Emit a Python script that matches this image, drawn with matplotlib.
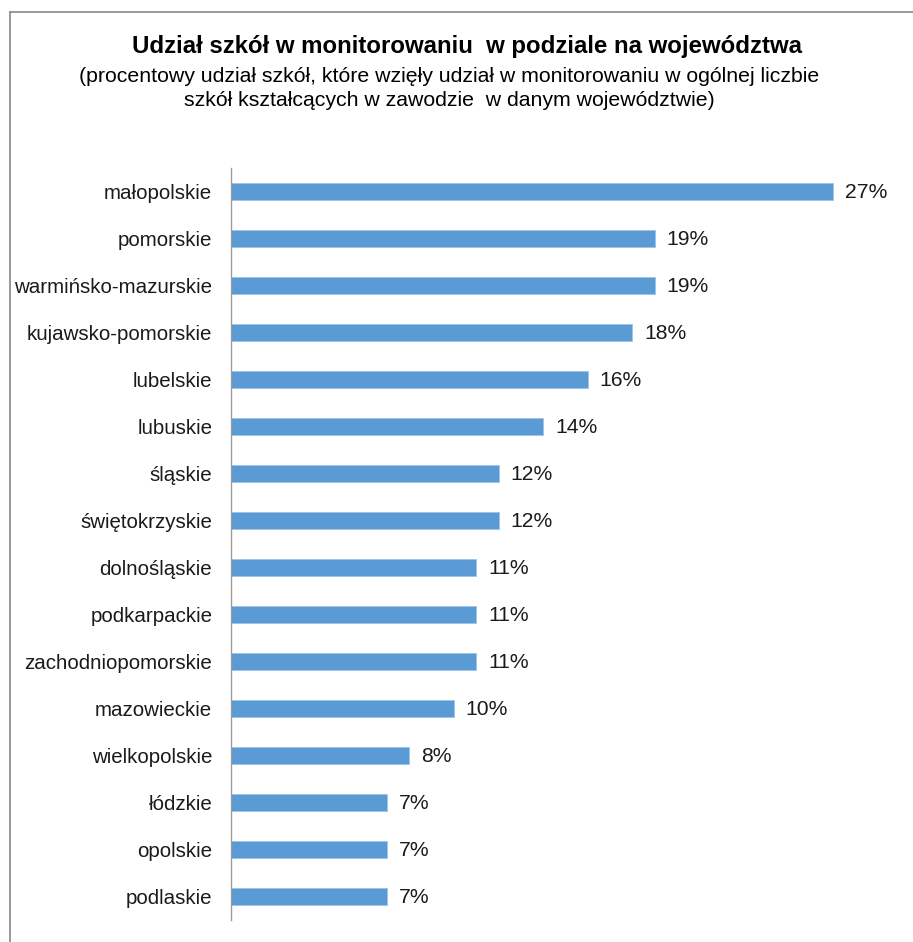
import matplotlib
matplotlib.use("Agg")
import matplotlib.pyplot as plt
from matplotlib.lines import Line2D

categories = ["małopolskie", "pomorskie", "warmińsko-mazurskie", "kujawsko-pomorskie",
              "lubelskie", "lubuskie", "śląskie", "świętokrzyskie", "dolnośląskie",
              "podkarpackie", "zachodniopomorskie", "mazowieckie", "wielkopolskie",
              "łódzkie", "opolskie", "podlaskie"]
values = [27, 19, 19, 18, 16, 14, 12, 12, 11, 11, 11, 10, 8, 7, 7, 7]
value_labels = ["27%", "19%", "19%", "18%", "16%", "14%", "12%", "12%", "11%",
                "11%", "11%", "10%", "8%", "7%", "7%", "7%"]
title = "Udział szkół w monitorowaniu  w podziale na województwa"
subtitle_lines = ["(procentowy udział szkół, które wzięły udział w monitorowaniu w ogólnej liczbie",
                  "szkół kształcących w zawodzie  w danym województwie)"]

plt.rcParams['font.family'] = ['Liberation Sans', 'DejaVu Sans']

W, H = 913, 942
fig = plt.figure(figsize=(W / 100, H / 100), dpi=100)
fig.patch.set_facecolor("white")

ax_left, ax_right, ax_top, ax_bottom = 231, 900, 168, 920
ax = fig.add_axes([ax_left / W, 1 - ax_bottom / H, (ax_right - ax_left) / W, (ax_bottom - ax_top) / H])

y = list(range(len(categories)))
ax.barh(y, values, height=0.38, color="#5B9BD5", edgecolor="#9DC3E6", linewidth=0.6)
ax.set_ylim(len(categories) - 0.5, -0.5)
ax.set_xlim(0, 30)
ax.set_yticks(y)
ax.set_yticklabels(categories, fontsize=14.8, color="#1a1a1a")
ax.tick_params(axis="y", length=0, pad=13.5)
ax.set_xticks([])
for s in ["top", "right", "bottom"]:
    ax.spines[s].set_visible(False)
ax.spines["left"].set_color("#9a9a9a")
ax.spines["left"].set_linewidth(1.0)

for yi, v, lab in zip(y, values, value_labels):
    ax.annotate(lab, xy=(v, yi), xytext=(8.5, -1), textcoords="offset points",
                va="center", ha="left", fontsize=15.2, color="#1a1a1a")

cx = 0.5 * (130 + 803) / W
fig.text(cx, 1 - 53.5 / H, title, ha="center", va="baseline",
         fontsize=17.3, fontweight="bold", color="#000000")
sx = 0.5 * (52 + 847) / W
for line, base in zip(subtitle_lines, [82.3, 105.7]):
    fig.text(sx, 1 - base / H, line, ha="center", va="baseline",
             fontsize=15.3, color="#000000")

# outer frame (top and left edges visible)
fig.add_artist(Line2D([10 / W, 10 / W], [0, 1 - 12 / H], transform=fig.transFigure,
                      color="#888888", linewidth=1.2))
fig.add_artist(Line2D([10 / W, 1], [1 - 12 / H, 1 - 12 / H], transform=fig.transFigure,
                      color="#888888", linewidth=1.2))

fig.savefig("out.png", dpi=100, facecolor="white")
